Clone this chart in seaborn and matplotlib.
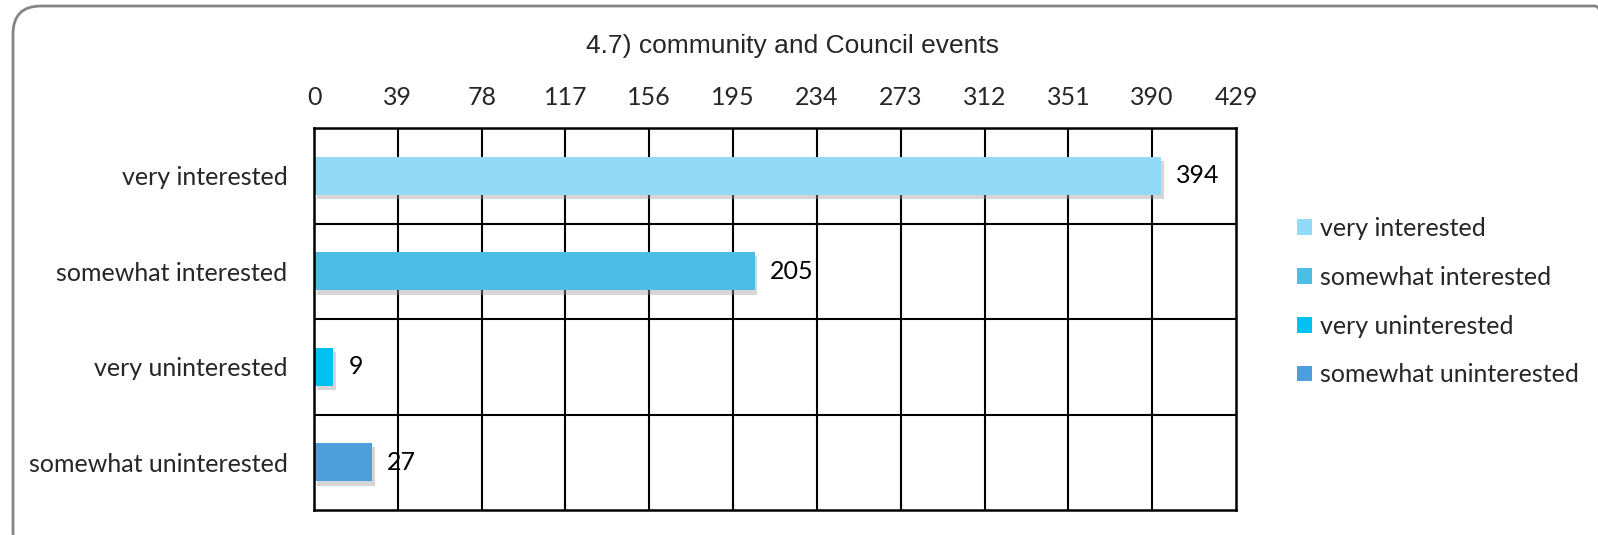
import matplotlib
matplotlib.use("Agg")
import matplotlib.pyplot as plt
import matplotlib.patheffects as pe
from matplotlib.patches import FancyBboxPatch, Patch
import seaborn as sns
import pandas as pd

categories = ["very interested", "somewhat interested", "very uninterested", "somewhat uninterested"]
values = [394, 205, 9, 27]
colors = ["#92DAF6", "#4CBDE4", "#00C1F2", "#4E9EDC"]
x_ticks = [0, 39, 78, 117, 156, 195, 234, 273, 312, 351, 390, 429]
title = "4.7) community and Council events"

sns.set_theme(style="white")
plt.rcParams["font.family"] = ["Lato", "DejaVu Sans"]

W, H = 1598, 535
fig = plt.figure(figsize=(W / 100, H / 100), dpi=100)
fig.patch.set_facecolor("white")

# rounded outer frame
frame = FancyBboxPatch((13, -25), 1610, H - 6 + 25, transform=None,
                       boxstyle="round,pad=0,rounding_size=28", fc="none", ec="#858585", lw=2)
fig.patches.append(frame)

ax = fig.add_axes([314 / W, 1 - 510 / H, (1236 - 314) / W, (510 - 128) / H])
df = pd.DataFrame({"category": categories, "value": values})
sns.barplot(data=df, x="value", y="category", hue="category", palette=colors, orient="h",
            width=0.4, legend=False, ax=ax, saturation=1)

for p in ax.patches:
    p.set_path_effects([pe.SimplePatchShadow(offset=(2, -3), shadow_rgbFace="#999999", alpha=0.4),
                        pe.Normal()])
    p.set_edgecolor("none")

ax.set_xlim(0, 429)
ax.set_ylim(3.5, -0.5)
ax.xaxis.tick_top()
ax.set_xticks(x_ticks)
ax.set_xticklabels([str(t) for t in x_ticks], fontsize=18)
ax.tick_params(axis="x", length=0, pad=14)
ax.tick_params(axis="y", length=0, pad=19, labelsize=18)
ax.set_xlabel("")
ax.set_ylabel("")
ax.set_axisbelow(True)
for t in x_ticks[1:-1]:
    ax.axvline(t, color="black", lw=1.5, zorder=0)
for yb in [0.5, 1.5, 2.5]:
    ax.axhline(yb, color="black", lw=1.5, zorder=0)
for s in ax.spines.values():
    s.set_color("black")
    s.set_linewidth(1.8)

for i, v in enumerate(values):
    ax.annotate(str(v), xy=(v, i), xytext=(11, 0), textcoords="offset points",
                va="center", ha="left", fontsize=18, color="black")

fig.text(792 / W, 1 - 46 / H, title, ha="center", va="center",
         fontsize=19, family=["Liberation Sans", "DejaVu Sans"])

handles = [Patch(facecolor=c, edgecolor="none") for c in colors]
fig.legend(handles, categories, loc="upper left", bbox_to_anchor=(1287 / W, 1 - 207 / H),
           frameon=False, fontsize=18, handlelength=0.6, handleheight=0.6,
           handletextpad=0.3, labelspacing=1.03, borderaxespad=0)

fig.savefig("out.png", dpi=100, facecolor="white")
